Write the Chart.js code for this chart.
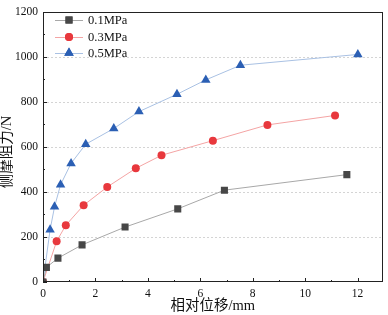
<!DOCTYPE html>
<html>
<head>
<meta charset="utf-8">
<script src="https://cdn.jsdelivr.net/npm/chart.js@4/dist/chart.umd.min.js"></script>
<style>
  html, body { margin: 0; padding: 0; background: #fff; }
  #wrap { width: 388px; height: 315px; position: relative; }
</style>
</head>
<body>
<div id="wrap"><canvas id="c"></canvas></div>
<script>
// data (x: 相对位移 mm, y: 侧摩阻力 N)
const seriesNames = ["0.1MPa", "0.3MPa", "0.5MPa"];
const x01 = [0, 0.13, 0.57, 1.49, 3.13, 5.14, 6.92, 11.59];
const y01 = [0, 65, 106, 165, 244, 325, 408, 477];
const x03 = [0, 0.52, 0.87, 1.55, 2.45, 3.54, 4.52, 6.48, 8.56, 11.14];
const y03 = [0, 181, 252, 341, 422, 505, 563, 628, 698, 740];
const x05 = [0, 0.27, 0.44, 0.67, 1.07, 1.63, 2.70, 3.66, 5.11, 6.21, 7.53, 12.01];
const y05 = [0, 232, 334, 432, 527, 612, 682, 757, 834, 898, 963, 1011];
const xTicks = [0, 2, 4, 6, 8, 10, 12];
const yTicks = [0, 200, 400, 600, 800, 1000, 1200];
const xTitle = "相对位移/mm";
const yTitle = "侧摩阻力/N";

const SERIF = "'Liberation Serif', 'Times New Roman', 'Noto Sans CJK SC', serif";
const styles = [
  { marker: "#474747", line: "#a8a8a8", shape: "rect", r: 5 },
  { marker: "#e8383d", line: "#f4a4a4", shape: "circle", r: 4 },
  { marker: "#2b5fb4", line: "#a9c1e3", shape: "triangle", r: 5.5 },
];

function pts(xs, ys) {
  return xs.map((x, i) => ({ x: x, y: ys[i] }));
}

const datasets = [pts(x01, y01), pts(x03, y03), pts(x05, y05)].map((d, i) => ({
  label: seriesNames[i],
  data: d,
  borderColor: styles[i].line,
  borderWidth: 1,
  pointStyle: styles[i].shape,
  pointRadius: styles[i].r,
  pointBackgroundColor: styles[i].marker,
  pointBorderColor: styles[i].marker,
  pointBorderWidth: 0,
  tension: 0,
  fill: false,
}));

// dotted grid, inside ticks, frame, y title and legend
const frame = {
  id: "frame",
  beforeDatasetsDraw(chart) {
    const ctx = chart.ctx;
    const a = chart.chartArea;
    const ys = chart.scales.y;
    ctx.save();
    ctx.strokeStyle = "#d4d4d4";
    ctx.lineWidth = 1;
    ctx.setLineDash([2, 2]);
    ctx.beginPath();
    yTicks.forEach((v) => {
      if (v === 0 || v === 1200) return;
      const py = Math.round(ys.getPixelForValue(v)) + 0.5;
      ctx.moveTo(a.left, py);
      ctx.lineTo(a.right, py);
    });
    ctx.stroke();
    ctx.restore();
  },
  afterDraw(chart) {
    const ctx = chart.ctx;
    const a = chart.chartArea;
    const xs = chart.scales.x, ys = chart.scales.y;
    ctx.save();
    ctx.strokeStyle = "#222";
    ctx.lineWidth = 1;
    ctx.beginPath();
    for (let v = 0; v <= 12; v++) {
      const px = Math.round(xs.getPixelForValue(v)) + 0.5;
      const len = v % 2 === 0 ? 4 : 2;
      ctx.moveTo(px, a.bottom);
      ctx.lineTo(px, a.bottom - len);
    }
    for (let v = 0; v <= 1200; v += 100) {
      const py = Math.round(ys.getPixelForValue(v)) + 0.5;
      const len = v % 200 === 0 ? 4 : 2;
      ctx.moveTo(a.left, py);
      ctx.lineTo(a.left + len, py);
    }
    ctx.stroke();
    ctx.strokeRect(Math.round(a.left) + 0.5, Math.round(a.top) + 0.5,
      Math.round(a.right - a.left) - 1, Math.round(a.bottom - a.top) - 1);

    // y title
    ctx.save();
    ctx.translate(7, 152);
    ctx.rotate(-Math.PI / 2);
    ctx.font = "14.5px " + SERIF;
    ctx.textAlign = "center";
    ctx.textBaseline = "middle";
    ctx.fillStyle = "#111";
    ctx.fillText(yTitle, 0, 0);
    ctx.restore();

    // legend
    ctx.font = "12.5px " + SERIF;
    ctx.textBaseline = "middle";
    const rows = [20, 37, 53];
    seriesNames.forEach((name, i) => {
      const y = rows[i];
      ctx.strokeStyle = styles[i].line;
      ctx.beginPath();
      ctx.moveTo(55, y + 0.5);
      ctx.lineTo(83, y + 0.5);
      ctx.stroke();
      ctx.fillStyle = styles[i].marker;
      Chart.helpers.drawPoint(ctx, { pointStyle: styles[i].shape, radius: styles[i].r, borderWidth: 0, rotation: 0 }, 69, y);
      ctx.fill();
      ctx.fillStyle = "#111";
      ctx.fillText(name, 88, y + 1);
    });
    ctx.restore();
  },
};

new Chart(document.getElementById("c"), {
  type: "line",
  data: { datasets: datasets },
  options: {
    responsive: true,
    maintainAspectRatio: false,
    animation: false,
    layout: { padding: { top: 6, right: 3, left: 0, bottom: 0 } },
    plugins: { legend: { display: false }, tooltip: { enabled: false } },
    scales: {
      x: {
        type: "linear",
        min: 0,
        max: 12.95,
        afterBuildTicks: (s) => { s.ticks = xTicks.map((v) => ({ value: v })); },
        afterFit: (s) => { s.height = 33; },
        grid: { display: false, drawTicks: false },
        border: { display: false },
        ticks: { padding: 5, color: "#111", font: { family: SERIF, size: 11.5 }, callback: (v) => String(v) },
        title: { display: true, text: xTitle, color: "#111", padding: { top: 0, bottom: 0 }, font: { family: SERIF, size: 14.5, weight: "normal" } },
      },
      y: {
        min: 0,
        max: 1200,
        afterBuildTicks: (s) => { s.ticks = yTicks.map((v) => ({ value: v })); },
        afterFit: (s) => { s.width = 43; },
        grid: { display: false, drawTicks: false },
        border: { display: false },
        ticks: { padding: 5, color: "#111", font: { family: SERIF, size: 11.5 }, callback: (v) => String(v) },
        title: { display: false },
      },
    },
  },
  plugins: [frame],
});
</script>
</body>
</html>
